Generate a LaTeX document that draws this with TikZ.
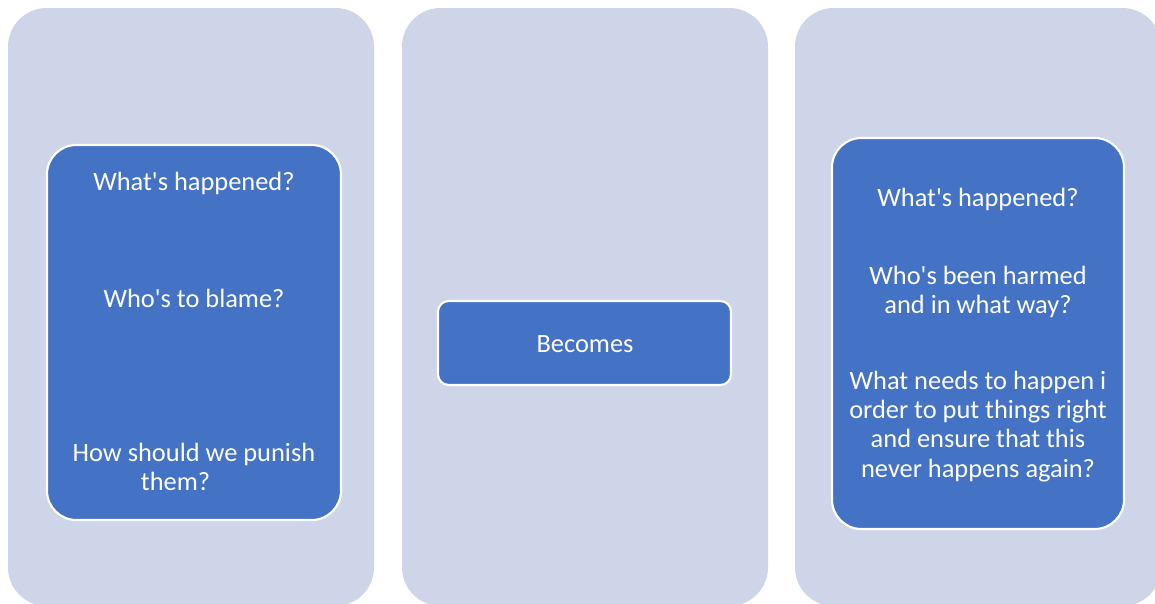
\documentclass[tikz,border=0pt]{standalone}
\usepackage{fontspec}
\setmainfont{Carlito}[Ligatures=TeXOff]
\definecolor{panelc}{HTML}{CFD5E8}
\definecolor{boxc}{HTML}{4472C4}
\begin{document}
\begin{tikzpicture}[x=0.75pt,y=-0.75pt,
  panel/.style={fill=panelc, draw=none, rounded corners=29pt},
  inner/.style={fill=boxc, draw=white, line width=1.6pt, rounded corners=22pt},
  txt/.style={text=white, font=\fontsize{19.8}{21.8}\selectfont, align=center, inner sep=0pt}]
\useasboundingbox (0,0) rectangle (1155,603);
\clip (0,0) rectangle (1155,603);
\fill[white] (0,0) rectangle (1155,603);
% panels
\path[panel] (8,8) rectangle (374,606);
\path[panel] (402,8) rectangle (768,606);
\path[panel] (795,8) rectangle (1161,606);
% left box
\path[inner] (47,145) rectangle (341,520);
\node[txt] (l1) at (194,183) {What's happened?};
\node[txt] (l2) at (194,298) {Who's to blame?};
\node[txt] (l3) at (194,467) {How should we punish\\them?\hspace*{1.4em}};
% middle
\path[inner, rounded corners=8pt] (438,301) rectangle (731,385);
\node[txt] (m1) at (585,344) {Becomes};
% right box
\path[inner] (832,138) rectangle (1124,529);
\node[txt] (r1) at (978,199) {What's happened?};
\node[txt] (r2) at (978,291.5) {Who's been harmed\\and in what way?};
\node[txt] (r3) at (978,426.5) {What needs to happen i\\order to put things right\\and ensure that this\\never happens again?};
\end{tikzpicture}
\end{document}
